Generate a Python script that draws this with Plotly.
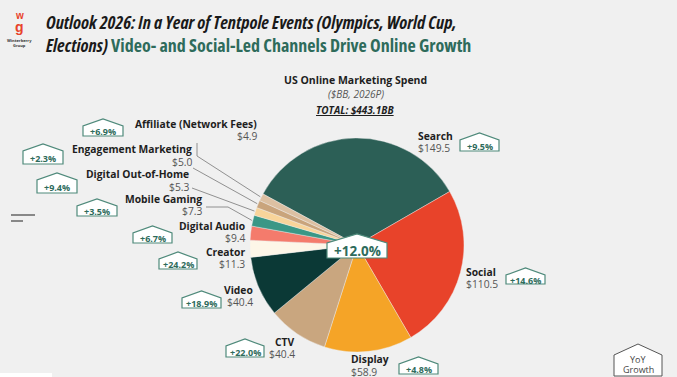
import plotly.graph_objects as go
import math

W, H = 677, 377

# ---------------- data ----------------
channels = ["Search", "Social", "Display", "CTV", "Video", "Creator",
            "Digital Audio", "Mobile Gaming", "Digital Out-of-Home",
            "Engagement Marketing", "Affiliate (Network Fees)"]
spend = [149.5, 110.5, 58.9, 40.4, 40.4, 11.3, 9.4, 7.3, 5.3, 5.0, 4.9]
growth = ["+9.5%", "+14.6%", "+4.8%", "+22.0%", "+18.9%", "+24.2%",
          "+6.7%", "+3.5%", "+9.4%", "+2.3%", "+6.9%"]
total_label = "TOTAL: $443.1BB"
total_growth = "+12.0%"

colors = ["#2C5F56", "#E8432A", "#F5A427", "#C9A67F", "#0B3936", "#FDF6E8",
          "#F47B6C", "#3A9786", "#F8D49A", "#C9A47C", "#DCC0A2"]

# ---------------- layout helpers ----------------
def px(x):
    return x / W

def py(y):
    return 1 - y / H

CX, CY, R = 357, 245, 107
ROT = -61.5

fig = go.Figure()
fig.add_trace(go.Pie(
    labels=channels, values=spend, sort=False, direction="clockwise",
    rotation=ROT, marker=dict(colors=colors, line=dict(color="#F0F0F0", width=0.4)),
    textinfo="none", hoverinfo="label+value", showlegend=False,
    domain=dict(x=[px(CX - R), px(CX + R)], y=[py(CY + R), py(CY - R)]),
))

ann = []
shapes = []

def text(x, y, s, size=10, color="#222", xanchor="center", bold=False,
         italic=False, family="Open Sans", yanchor="middle"):
    if bold:
        s = "<b>" + s + "</b>"
    if italic:
        s = "<i>" + s + "</i>"
    ann.append(dict(x=px(x), y=py(y), xref="paper", yref="paper", text=s,
                    showarrow=False, xanchor=xanchor, yanchor=yanchor,
                    font=dict(size=size, color=color, family=family)))

# label positions (name anchor x, name y, value y, side)
label_pos = {
    "Search": (416, 136, 148, "left"),
    "Social": (464, 272, 284, "left"),
    "Display": (349, 359, 372, "left"),
    "CTV": (297, 342, 354, "right"),
    "Video": (255, 290, 302, "right"),
    "Creator": (247, 252, 264, "right"),
    "Digital Audio": (247, 226, 238, "right"),
    "Mobile Gaming": (204, 199, 211, "right"),
    "Digital Out-of-Home": (191, 174, 187, "right"),
    "Engagement Marketing": (194, 149, 162, "right"),
    "Affiliate (Network Fees)": (259, 124, 136, "right"),
}
# badge boxes (x0, x1, peak y, shoulder y, bottom y)
badge_pos = {
    "Search": (460, 499, 133, 140, 151),
    "Social": (506, 545, 268, 275, 284),
    "Display": (399, 438, 357, 364, 374),
    "CTV": (226, 264, 339, 346, 357),
    "Video": (182, 221, 291, 298, 308),
    "Creator": (159, 197, 252, 259, 269),
    "Digital Audio": (133, 172, 226, 233, 243),
    "Mobile Gaming": (77, 117, 199, 206, 216),
    "Digital Out-of-Home": (37, 77, 173, 180, 193),
    "Engagement Marketing": (23, 63, 144, 151, 164),
    "Affiliate (Network Fees)": (83, 123, 119, 126, 136),
}

def badge(x0, x1, yp, ys, yb, line="#4F8A7B", fill="#FFFFFF", width=1.2):
    xc = (x0 + x1) / 2
    path = (f"M {px(x0)},{py(yb)} L {px(x0)},{py(ys)} L {px(xc)},{py(yp)} "
            f"L {px(x1)},{py(ys)} L {px(x1)},{py(yb)} Z")
    shapes.append(dict(type="path", path=path, xref="paper", yref="paper",
                       line=dict(color=line, width=width), fillcolor=fill,
                       layer="above"))

for name, val, g in zip(channels, spend, growth):
    x, yn, yv, side = label_pos[name]
    xa = "left" if side == "left" else "right"
    text(x, yn, name, size=10.3, color="#1E1E1E", xanchor=xa, bold=True)
    text(x, yv, f"${val:.1f}", size=10.3, color="#555555", xanchor=xa)
    x0, x1, yp, ys, yb = badge_pos[name]
    badge(x0, x1, yp, ys, yb)
    text((x0 + x1) / 2, (ys + yb) / 2 + 0.5, g, size=9, color="#2E6B5B", bold=True)

# leader lines to small slices (start points near labels, end on slice mid-angle)
tot = sum(spend)
cum = 0
mid = {}
for name, v in zip(channels, spend):
    a = math.radians(ROT + 360 * (cum + v / 2) / tot)
    mid[name] = (CX + (R + 1) * math.sin(a), CY - (R + 1) * math.cos(a))
    cum += v
leaders = {
    "Affiliate (Network Fees)": [(197, 143), (197, 156)],
    "Engagement Marketing": [(193, 168)],
    "Digital Out-of-Home": [(192, 188)],
    "Mobile Gaming": [(206, 207), (228, 207)],
}
for name, pts in leaders.items():
    pts = pts + [mid[name]]
    path = "M " + " L ".join(f"{px(x)},{py(y)}" for x, y in pts)
    shapes.append(dict(type="path", path=path, xref="paper", yref="paper",
                       line=dict(color="#777777", width=0.8)))

# center growth badge
badge(327, 387, 234, 243, 258, line="#4F8A7B", fill="#FFFFFF", width=1.2)
text(357, 251, total_growth, size=13.5, color="#2E6B5B", bold=True)

# YoY Growth legend badge
badge(614, 662, 344, 355, 376, line="#555555", fill="#FFFFFF", width=1)
text(638, 359, "YoY", size=9, color="#444444")
text(638, 369.5, "Growth", size=9, color="#444444")

# chart headings
text(355, 80, "US Online Marketing Spend", size=10.5, color="#1E1E1E", bold=True)
text(356, 94, "($BB, 2026P)", size=10, color="#555555", italic=True)
text(355, 110, "<u>" + total_label + "</u>", size=10, color="#1E1E1E", bold=True, italic=True)

# title
cond = "font-stretch:condensed"
title = (f"<span style='{cond}'><b><i>Outlook 2026: In a Year of Tentpole Events (Olympics, World Cup,</i></b></span><br>"
         f"<span style='{cond}'><b><i>Elections)</i></b> </span><span style='{cond};color:#2E6B5B'><b>Video- and Social-Led "
         "Channels Drive Online Growth</b></span>")
ann.append(dict(x=px(43), y=py(8), xref="paper", yref="paper", text=title,
                showarrow=False, xanchor="left", yanchor="top", align="left",
                font=dict(size=18, color="#1A1A1A", family="Open Sans")))

# logo
text(19, 15.5, "w", size=10, color="#E8432A", bold=True, family="Liberation Sans")
text(19, 27, "g", size=14, color="#E8432A", bold=True, family="Liberation Sans")
text(19, 41, "Winterberry", size=4, color="#333333", bold=True)
text(19, 45.5, "Group", size=4, color="#333333", bold=True)

# decorative marks
shapes.append(dict(type="line", xref="paper", yref="paper", x0=px(11), x1=px(35),
                   y0=py(215), y1=py(215), line=dict(color="#666666", width=1.5)))
shapes.append(dict(type="line", xref="paper", yref="paper", x0=px(11), x1=px(23),
                   y0=py(221), y1=py(221), line=dict(color="#666666", width=1.5)))
shapes.append(dict(type="rect", xref="paper", yref="paper", x0=px(0), x1=px(52),
                   y0=py(377), y1=py(373), line=dict(width=0), fillcolor="#FFFFFF"))

fig.update_layout(
    width=W, height=H, margin=dict(l=0, r=0, t=0, b=0),
    paper_bgcolor="#F0F0F0", plot_bgcolor="#F0F0F0",
    annotations=ann, shapes=shapes, showlegend=False,
)
fig.write_html("out.html", config={"displayModeBar": False},
               post_script="document.body.style.margin='0';document.body.style.overflow='hidden';")
